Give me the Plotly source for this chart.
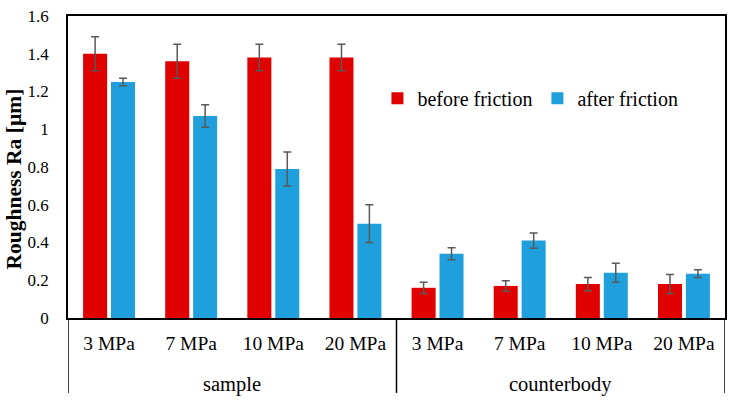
import plotly.graph_objects as go

groups = ["sample", "counterbody"]
pressures = ["3 MPa", "7 MPa", "10 MPa", "20 MPa"] * 2
before = [1.40, 1.36, 1.38, 1.38, 0.16, 0.17, 0.18, 0.18]
before_err = [0.09, 0.09, 0.07, 0.07, 0.03, 0.028, 0.035, 0.05]
after = [1.25, 1.07, 0.79, 0.50, 0.34, 0.41, 0.24, 0.235]
after_err = [0.02, 0.06, 0.09, 0.10, 0.032, 0.04, 0.05, 0.02]
y_ticks = [0, 0.2, 0.4, 0.6, 0.8, 1, 1.2, 1.4, 1.6]
y_ticktext = ["0", "0.2", "0.4", "0.6", "0.8", "1", "1.2", "1.4", "1.6"]

FONT = "Liberation Serif, Times New Roman, serif"
RED = "#E00000"
BLUE = "#1F9FDB"
ERR = "#595959"

xpos = list(range(len(pressures)))

fig = go.Figure()
fig.add_trace(go.Bar(
    name="before friction", x=xpos, y=before,
    marker=dict(color=RED, line=dict(width=0)),
    error_y=dict(type="data", array=before_err, color=ERR, thickness=1.5, width=4),
))
fig.add_trace(go.Bar(
    name="after friction", x=xpos, y=after,
    marker=dict(color=BLUE, line=dict(width=0)),
    error_y=dict(type="data", array=after_err, color=ERR, thickness=1.5, width=4),
))

# group labels and dividers
n_per = len(pressures) // len(groups)
for gi, g in enumerate(groups):
    center = gi * n_per + (n_per - 1) / 2
    fig.add_annotation(x=center, y=-0.22, xref="x", yref="paper", text=g, showarrow=False,
                       font=dict(family=FONT, size=20.5, color="black"), yanchor="middle")
for b in range(len(groups) + 1):
    xb = b * n_per - 0.5
    fig.add_shape(type="line", xref="x", yref="paper", x0=xb, x1=xb, y0=0, y1=-0.248,
                  line=dict(color="black", width=1.5))

fig.add_annotation(x=-0.0822, y=0.462, xref="paper", yref="paper", text="<b>Roughness Ra [µm]</b>",
                   textangle=-90, showarrow=False, font=dict(family=FONT, size=21.5, color="black"),
                   xanchor="center", yanchor="middle")

fig.update_layout(
    width=733, height=408,
    margin=dict(l=68, r=8, t=16, b=90, autoexpand=False),
    paper_bgcolor="white", plot_bgcolor="white",
    barmode="group", bargap=0.32, bargroupgap=0.14,
    font=dict(family=FONT, size=17, color="black"),
    legend=dict(orientation="h", x=0.471, y=0.728, xanchor="left", yanchor="middle",
                font=dict(family=FONT, size=20, color="black"), itemsizing="constant",
                bgcolor="rgba(0,0,0,0)", traceorder="normal"),
    showlegend=True,
)
fig.update_xaxes(
    range=[-0.5, len(pressures) - 0.5], tickvals=xpos, ticktext=pressures,
    showline=True, linecolor="black", linewidth=1.5, mirror=True, showgrid=False, zeroline=False,
    ticks="outside", ticklen=7, tickcolor="rgba(0,0,0,0)", automargin=False,
    tickfont=dict(family=FONT, size=19.5), ticklabeloverflow="allow",
)
fig.update_yaxes(
    range=[0, 1.6], tickvals=y_ticks, ticktext=y_ticktext,
    showgrid=False, zeroline=False, showline=True, linecolor="black", linewidth=1.5, mirror=True,
    ticks="outside", ticklen=14, tickcolor="rgba(0,0,0,0)", automargin=False,
    tickfont=dict(family=FONT, size=17), ticklabeloverflow="allow",
)

fig.write_html("out.html", config={"displayModeBar": False},
               post_script="document.body.style.margin='0';")
